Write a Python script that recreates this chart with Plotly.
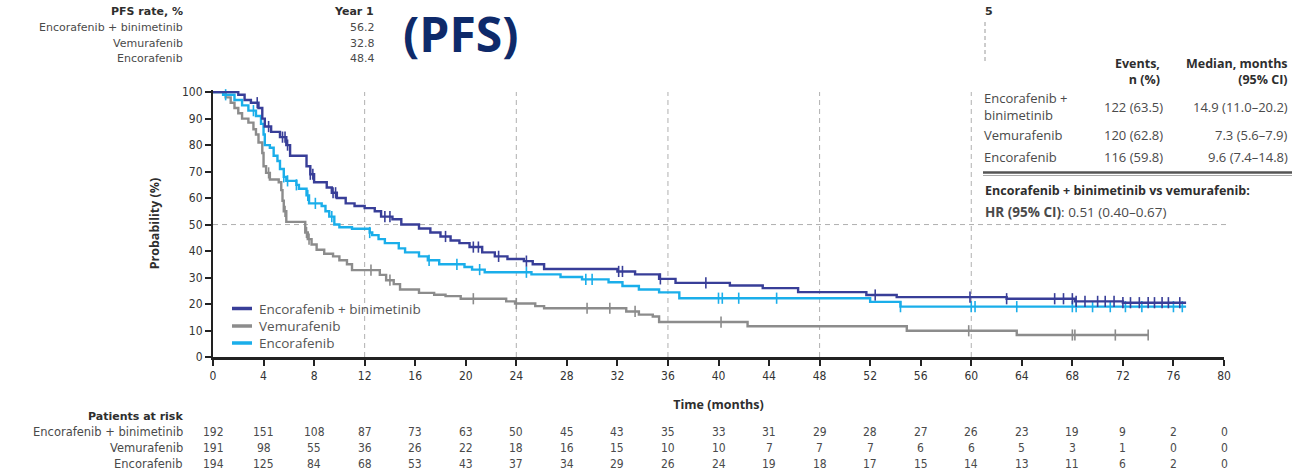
import plotly.graph_objects as go
import numpy as np

# ---------------- data ----------------
eb_t = [0, 2.0, 2.5, 3.0, 3.6, 3.9, 4.1, 4.6, 5.3, 5.8, 6.1, 7.4, 7.7, 8.0, 9.0, 9.4, 9.8, 10.5, 11.2, 12.0,
        12.8, 13.3, 14.2, 14.9, 16.3, 17.2, 18.0, 18.8, 19.5, 20.3, 21.3, 22.3, 23.3, 24.6, 25.3, 26.2,
        32.0, 33.4, 35.3, 36.6, 40.9, 43.5, 46.3, 51.7, 54.1, 62.8, 68.2, 72.0, 77.0]
eb_s = [100, 99, 97, 96, 94, 90, 87, 85, 83, 80, 76, 72, 69, 66, 64, 62, 60, 58, 57, 56.2,
        55, 53, 52, 50, 48.5, 47, 45.5, 44, 43, 41.5, 39.5, 38, 37, 36.2, 35, 33.2,
        32.3, 31.2, 29.5, 28, 27, 26, 24.5, 23.4, 22.6, 22.0, 21.0, 20.5, 20.5]

v_t = [0, 1.0, 1.4, 1.7, 2.0, 2.3, 2.8, 3.2, 3.4, 3.6, 3.9, 4.0, 4.2, 4.5, 5.2, 5.4, 5.5, 5.6, 5.8,
       7.3, 7.5, 7.8, 8.2, 8.8, 9.5, 10.0, 10.6, 11.0, 13.2, 13.7, 14.3, 14.8, 16.3, 17.5, 18.4, 19.6,
       23.2, 23.9, 25.5, 26.2, 32.7, 33.7, 34.8, 35.3, 42.3, 54.9, 63.6, 74.0]
v_s = [100, 98, 96, 94, 92, 90, 88.5, 86, 84, 81, 77, 72, 69.5, 67, 66, 63, 59, 55, 51,
       47, 44.5, 42.5, 40.5, 39, 38, 36.5, 35, 32.8, 31, 29, 27.5, 25.5, 24.2, 23.5, 23, 22,
       21, 20.2, 19.2, 18.4, 17.2, 16, 15.3, 13.2, 11.6, 9.9, 8.3, 8.3]

e_t = [0, 0.8, 1.7, 2.3, 2.8, 3.4, 3.8, 4.0, 4.1, 4.5, 4.8, 5.1, 5.3, 5.6, 5.8, 6.6, 6.8, 7.4, 7.6,
       8.6, 8.9, 9.2, 9.6, 10.0, 11.0, 12.4, 12.6, 13.1, 13.6, 14.7, 15.2, 16.3, 17.0, 17.9, 19.9,
       20.5, 21.5, 25.2, 27.5, 29.2, 31.3, 32.4, 33.7, 35.3, 36.9, 52.0, 54.4, 77.0]
e_s = [100, 99, 97, 95, 93, 91, 88, 84, 80, 79, 76, 74, 71, 68, 66.5, 65, 63.5, 61, 58,
       57, 55, 53, 50, 49, 48.4, 47, 46, 44.5, 43, 41, 39.5, 38, 36.5, 35, 34,
       33, 32, 31.2, 30.2, 29.3, 28.2, 26.8, 25.5, 24.4, 22.2, 20.8, 19.0, 19.0]

eb_cens = [3.5, 4.4, 5.5, 5.7, 5.9, 7.7, 7.9, 9.5, 9.7, 13.6, 14.0, 18.4, 20.6, 21.0, 22.6, 24.8, 32.1,
           32.4, 35.4, 39.0, 52.4, 59.9, 62.8, 66.6, 67.3, 68.0, 68.3, 69.0, 70.0, 70.6, 71.3, 72.0,
           72.6, 73.3, 74.0, 74.5, 75.1, 75.6, 76.5]
e_cens = [1.0, 3.2, 5.6, 5.9, 6.6, 7.5, 8.1, 9.4, 12.4, 17.1, 19.3, 21.1, 24.8, 29.5, 30.0, 40.0, 40.3,
          41.6, 44.6, 54.4, 60.0, 60.3, 63.6, 68.0, 68.3, 69.6, 71.0, 72.2, 73.5, 76.0, 76.7]
v_cens = [4.4, 5.7, 7.4, 7.6, 12.5, 14.0, 20.6, 24.0, 29.6, 31.4, 33.4, 40.2, 59.8, 68.0, 68.2, 71.4, 74.0]

risk_ticks = list(range(0, 81, 4))
risk_eb = [192, 151, 108, 87, 73, 63, 50, 45, 43, 35, 33, 31, 29, 28, 27, 26, 23, 19, 9, 2, 0]
risk_v = [191, 98, 55, 36, 26, 22, 18, 16, 15, 10, 10, 7, 7, 7, 6, 6, 5, 3, 1, 0, 0]
risk_e = [194, 125, 84, 68, 53, 43, 37, 34, 29, 26, 24, 19, 18, 17, 15, 14, 13, 11, 6, 2, 0]

arm_names = ["Encorafenib + binimetinib", "Vemurafenib", "Encorafenib"]
pfs_year1 = ["56.2", "32.8", "48.4"]
events = ["122 (63.5)", "120 (62.8)", "116 (59.8)"]
medians = ["14.9 (11.0–20.2)", "7.3 (5.6–7.9)", "9.6 (7.4–14.8)"]
hr_text = "0.51 (0.40–0.67)"

# ---------------- style ----------------
C_EB = "#383E98"
C_V = "#8C8C8C"
C_E = "#1AAEEA"
TXT = "#4a4a4a"
DARK = "#2e2e2e"
FONT = "Open Sans, Noto Sans, sans-serif"
WIDE = "DejaVu Sans, Open Sans, sans-serif"
NUMFONT = "Liberation Sans Narrow, DejaVu Sans Condensed, Roboto Condensed, Open Sans, sans-serif"
FS = 13

W, H = 1312, 473
L, R, T, B = 213, 88, 90, 116
PW, PH = W - L - R, H - T - B


def px(x):
    return (x - L) / PW


def py(y):
    return (H - B - y) / PH


def step_val(ts, ss, t):
    i = int(np.searchsorted(np.array(ts), t, side="right")) - 1
    return ss[max(i, 0)]


fig = go.Figure()

for ts, ss, cens, col in [(v_t, v_s, v_cens, C_V), (e_t, e_s, e_cens, C_E), (eb_t, eb_s, eb_cens, C_EB)]:
    fig.add_trace(go.Scatter(x=ts, y=ss, mode="lines", line=dict(color=col, width=2.4, shape="hv"),
                             showlegend=False, hoverinfo="skip"))
    fig.add_trace(go.Scatter(x=cens, y=[step_val(ts, ss, c) for c in cens], mode="markers",
                             marker=dict(symbol="line-ns", size=8, line=dict(color=col, width=1.6)),
                             showlegend=False, hoverinfo="skip", cliponaxis=False))

shapes = []
for g in [12, 24, 36, 48, 60]:
    shapes.append(dict(type="line", xref="x", yref="paper", x0=g, x1=g, y0=0, y1=py(92),
                       line=dict(color="#b0b0b0", width=1, dash="5px,4px"), layer="below"))
shapes.append(dict(type="line", xref="paper", yref="y", x0=0, x1=px(1229), y0=50, y1=50,
                   line=dict(color="#b0b0b0", width=1, dash="5px,4px"), layer="below"))
shapes.append(dict(type="line", xref="paper", yref="paper", x0=px(985), x1=px(985), y0=py(22), y1=py(64),
                   line=dict(color="#9a9a9a", width=1, dash="4px,3px")))
shapes.append(dict(type="line", xref="paper", yref="paper", x0=px(983), x1=px(1292), y0=py(172.5), y1=py(172.5),
                   line=dict(color="#555555", width=2.5)))
shapes.append(dict(type="line", xref="paper", yref="paper", x0=px(983), x1=px(1292), y0=py(175.5), y1=py(175.5),
                   line=dict(color="#aaaaaa", width=1)))

leg_y = [308.5, 326, 343]
ann = []
for name, col, yy in zip(arm_names, [C_EB, C_V, C_E], leg_y):
    shapes.append(dict(type="line", xref="paper", yref="paper", x0=px(232), x1=px(252), y0=py(yy), y1=py(yy),
                       line=dict(color=col, width=3.5)))
    ann.append(dict(xref="paper", yref="paper", x=px(257), y=py(yy), text=name, showarrow=False,
                    xanchor="left", yanchor="middle", font=dict(family=FONT, size=13.5, color="#555")))

ann.append(dict(xref="paper", yref="paper", x=px(460), y=py(34), text="<b>(PFS)</b>", showarrow=False,
                xanchor="center", yanchor="middle", font=dict(family=FONT, size=48, color="#0E2A6A")))

ann.append(dict(xref="paper", yref="paper", x=px(185), y=py(12), text="<b>PFS rate, %</b>", showarrow=False,
                xanchor="right", yanchor="middle", font=dict(family=WIDE, size=11, color=DARK)))
ann.append(dict(xref="paper", yref="paper", x=px(376), y=py(12), text="<b>Year 1</b>", showarrow=False,
                xanchor="right", yanchor="middle", font=dict(family=WIDE, size=11, color=DARK)))
ann.append(dict(xref="paper", yref="paper", x=px(983), y=py(12), text="<b>5</b>", showarrow=False,
                xanchor="left", yanchor="middle", font=dict(family=WIDE, size=11, color=DARK)))
for name, val, yy in zip(arm_names, pfs_year1, [27.5, 43, 58.5]):
    ann.append(dict(xref="paper", yref="paper", x=px(185), y=py(yy), text=name, showarrow=False,
                    xanchor="right", yanchor="middle", font=dict(family=WIDE, size=11, color=TXT)))
    ann.append(dict(xref="paper", yref="paper", x=px(377), y=py(yy), text=val, showarrow=False,
                    xanchor="right", yanchor="middle", font=dict(family=WIDE, size=11, color=TXT)))

ann.append(dict(xref="paper", yref="paper", x=px(1162), y=py(71), text="<b>Events,<br>n (%)</b>", showarrow=False,
                xanchor="right", yanchor="middle", align="right", font=dict(family=FONT, size=12.5, color=DARK)))
ann.append(dict(xref="paper", yref="paper", x=px(1290), y=py(71), text="<b>Median, months<br>(95% CI)</b>",
                showarrow=False, xanchor="right", yanchor="middle", align="right",
                font=dict(family=FONT, size=12.5, color=DARK)))
row_labels = ["Encorafenib +<br>binimetinib", "Vemurafenib", "Encorafenib"]
for lab, ev, md, yy in zip(row_labels, events, medians, [106.5, 135, 157]):
    ann.append(dict(xref="paper", yref="paper", x=px(982), y=py(yy), text=lab, showarrow=False,
                    xanchor="left", yanchor="middle", align="left", font=dict(family=FONT, size=FS, color=TXT)))
    ann.append(dict(xref="paper", yref="paper", x=px(1165), y=py(yy), text=ev, showarrow=False,
                    xanchor="right", yanchor="middle", font=dict(family=FONT, size=FS, color=TXT)))
    ann.append(dict(xref="paper", yref="paper", x=px(1290), y=py(yy), text=md, showarrow=False,
                    xanchor="right", yanchor="middle", font=dict(family=FONT, size=FS, color=TXT)))
ann.append(dict(xref="paper", yref="paper", x=px(983), y=py(190), text="<b>Encorafenib + binimetinib vs vemurafenib:</b>",
                showarrow=False, xanchor="left", yanchor="middle", font=dict(family=FONT, size=12.5, color=DARK)))
ann.append(dict(xref="paper", yref="paper", x=px(983), y=py(212), text="<b>HR (95% CI)</b>: " + hr_text,
                showarrow=False, xanchor="left", yanchor="middle", font=dict(family=FONT, size=13.5, color=TXT)))

ann.append(dict(xref="paper", yref="paper", x=px(185), y=py(416), text="<b>Patients at risk</b>", showarrow=False,
                xanchor="right", yanchor="middle", font=dict(family=WIDE, size=11, color=DARK)))
for name, row, yy in zip(arm_names, [risk_eb, risk_v, risk_e], [432, 448, 464]):
    ann.append(dict(xref="paper", yref="paper", x=px(185), y=py(yy), text=name, showarrow=False,
                    xanchor="right", yanchor="middle", font=dict(family=WIDE, size=11.5, color=TXT)))
    for t, n in zip(risk_ticks, row):
        ann.append(dict(xref="x", yref="paper", x=t, y=py(yy), text=str(n), showarrow=False,
                        xanchor="center", yanchor="middle", font=dict(family=NUMFONT, size=12, color=TXT)))

fig.update_layout(
    width=W, height=H, margin=dict(l=L, r=R, t=T, b=B),
    paper_bgcolor="white", plot_bgcolor="white",
    shapes=shapes, annotations=ann, showlegend=False,
    xaxis=dict(range=[0, 80], tickmode="array", tickvals=risk_ticks, ticks="outside", ticklen=6, tickwidth=1.5,
               tickcolor="#222", showline=True, linecolor="#222", linewidth=3, showgrid=False, zeroline=False,
               tickfont=dict(family=NUMFONT, size=12, color="#333"),
               title=dict(text="<b>Time (months)</b>", font=dict(family=FONT, size=12.5, color=DARK), standoff=18)),
    yaxis=dict(range=[0, 100.8], tickmode="array", tickvals=list(range(0, 101, 10)), ticks="outside", ticklen=6,
               tickwidth=1.5, tickcolor="#222", showline=True, linecolor="#222", linewidth=2, showgrid=False,
               zeroline=False, tickfont=dict(family=NUMFONT, size=12, color="#333"),
               title=dict(text="<b>Probability (%)</b>", font=dict(family=FONT, size=12.5, color=DARK), standoff=20)),
)

fig.write_html("out.html")
